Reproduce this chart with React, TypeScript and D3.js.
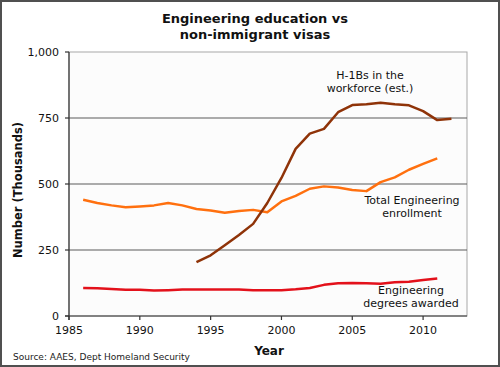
import React from "react";
import * as d3 from "d3";

// values in thousands
const enrollYears = [1986, 1987, 1988, 1989, 1990, 1991, 1992, 1993, 1994, 1995, 1996, 1997, 1998, 1999, 2000, 2001, 2002, 2003, 2004, 2005, 2006, 2007, 2008, 2009, 2010, 2011];
const enrollment = [440, 428, 419, 412, 415, 419, 428, 419, 405, 400, 391, 398, 402, 393, 434, 455, 482, 491, 487, 477, 473, 507, 525, 554, 576, 597];
const degrees = [106, 105, 102, 99, 99, 97, 98, 100, 100, 100, 100, 100, 98, 98, 98, 101, 106, 118, 124, 125, 124, 122, 128, 130, 136, 142];
const h1bYears = [1994, 1995, 1996, 1997, 1998, 1999, 2000, 2001, 2002, 2003, 2004, 2005, 2006, 2007, 2008, 2009, 2010, 2011, 2012];
const h1b = [204, 230, 268, 307, 349, 428, 523, 633, 691, 709, 772, 799, 802, 808, 802, 798, 776, 742, 747];
const xTicks = [1985, 1990, 1995, 2000, 2005, 2010];
const yTicks = [0, 250, 500, 750, 1000];

const W = 500;
const H = 367;
const margin = { top: 52, left: 69, right: 33, bottom: 51 };
const font = "Verdana, 'DejaVu Sans', sans-serif";

export default function App() {
  const x = d3.scaleLinear().domain([1985, 2013.1]).range([margin.left, W - margin.right]);
  const y = d3.scaleLinear().domain([0, 1000]).range([H - margin.bottom, margin.top]);

  const line = d3
    .line<[number, number]>()
    .x((d) => x(d[0]))
    .y((d) => y(d[1]));

  const series = [
    { pts: enrollYears.map((yr, i) => [yr, enrollment[i]] as [number, number]), color: "#ff700f" },
    { pts: enrollYears.map((yr, i) => [yr, degrees[i]] as [number, number]), color: "#e3111b" },
    { pts: h1bYears.map((yr, i) => [yr, h1b[i]] as [number, number]), color: "#8f3308" },
  ];

  const x0 = margin.left;
  const x1 = W - margin.right;
  const yb = y(0);

  return (
    <svg width={W} height={H} style={{ position: "absolute", left: 0, top: 0 }} fontFamily={font}>
      <rect x={1} y={1} width={W - 2} height={H - 2} fill="#ffffff" stroke="#505050" strokeWidth={2} />
      <rect x={x0} y={y(1000)} width={x1 - x0} height={yb - y(1000)} fill="#fcfcfc" stroke="#a8a8a8" strokeWidth={1} />

      <text x={255} y={23} textAnchor="middle" fontSize={13} fontWeight="bold" fill="#111">
        Engineering education vs
      </text>
      <text x={255} y={39} textAnchor="middle" fontSize={13} fontWeight="bold" fill="#111">
        non-immigrant visas
      </text>

      {yTicks.slice(1, 4).map((t) => (
        <line key={"g" + t} x1={x0} x2={x1} y1={y(t)} y2={y(t)} stroke="#5a5a5a" strokeWidth={1.2} />
      ))}

      {/* axes */}
      <line x1={x0} x2={x0} y1={y(1000)} y2={yb + 4} stroke="#333" strokeWidth={1.2} />
      <line x1={x0 - 4} x2={x1} y1={yb} y2={yb} stroke="#333" strokeWidth={1.2} />
      {yTicks.map((t) => (
        <g key={"y" + t}>
          <line x1={x0 - 4} x2={x0} y1={y(t)} y2={y(t)} stroke="#333" strokeWidth={1.2} />
          <text x={x0 - 10} y={y(t) + 4} textAnchor="end" fontSize={11} fill="#111">
            {d3.format(",")(t)}
          </text>
        </g>
      ))}
      {xTicks.map((t) => (
        <g key={"x" + t}>
          <line x1={x(t)} x2={x(t)} y1={yb} y2={yb + 4} stroke="#333" strokeWidth={1.2} />
          <text x={x(t)} y={yb + 18} textAnchor="middle" fontSize={11} fill="#111">
            {t}
          </text>
        </g>
      ))}

      {series.map((s, i) => (
        <path key={i} d={line(s.pts) ?? ""} fill="none" stroke={s.color} strokeWidth={2.5} strokeLinejoin="round" />
      ))}

      <g fontSize={11} fill="#111" textAnchor="middle">
        <text x={370} y={79}>H-1Bs in the</text>
        <text x={370} y={92}>workforce (est.)</text>
        <text x={412} y={204}>Total Engineering</text>
        <text x={412} y={217}>enrollment</text>
        <text x={411} y={294}>Engineering</text>
        <text x={411} y={307}>degrees awarded</text>
      </g>

      <text
        transform={`translate(22, ${(y(0) + y(1000)) / 2 + 6}) rotate(-90)`}
        textAnchor="middle"
        fontSize={11.5}
        fontWeight="bold"
        fill="#111"
      >
        Number (Thousands)
      </text>
      <text x={269} y={355} textAnchor="middle" fontSize={12} fontWeight="bold" fill="#111">
        Year
      </text>
      <text x={13} y={360} fontSize={9} fill="#222">
        Source: AAES, Dept Homeland Security
      </text>
    </svg>
  );
}
